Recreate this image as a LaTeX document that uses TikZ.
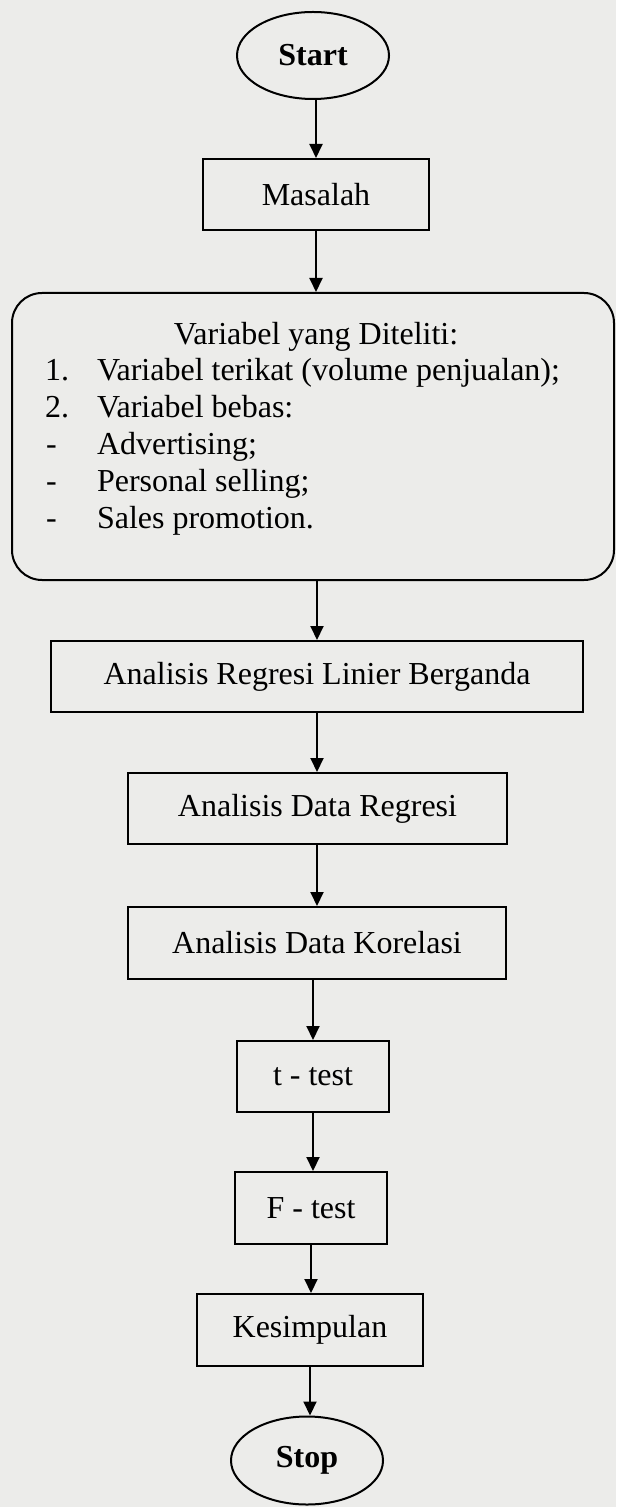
\documentclass[tikz,border=0pt]{standalone}
\usepackage{fontspec}
\setmainfont{Liberation Serif}
\usetikzlibrary{arrows.meta,shapes.geometric}
\definecolor{bg}{RGB}{236,236,234}
\begin{document}
\begin{tikzpicture}[x=0.5pt,y=-0.5pt,
  line width=1pt,
  every node/.style={font=\fontsize{16}{18.3}\selectfont},
  box/.style={draw, rectangle, minimum height=35.5pt, inner sep=0pt},
  term/.style={draw, ellipse, inner sep=0pt, font=\fontsize{16}{18.3}\selectfont\bfseries},
  txt/.style={anchor=base west, inner sep=0pt},
  flow/.style={-{Triangle[width=6.5pt,length=7pt]}}
]
\fill[bg] (0,0) rectangle (616,1507);
\useasboundingbox (0,0) rectangle (616,1507);

\node[term, minimum width=76pt, minimum height=43.5pt] (start) at (313,55.5) {Start};
\node[box, minimum width=113pt] (masalah) at (316,194.5) {Masalah};
\node[draw, rounded corners=15pt, minimum width=301pt, minimum height=143.5pt, inner sep=0pt] (var) at (313,436.5) {};
\node[anchor=base, inner sep=0pt] (vtitle) at (316,345) {Variabel yang Diteliti:};
\node[txt] (n1) at (44,381) {1.};
\node[txt] (v1) at (96,381) {Variabel terikat (volume penjualan);};
\node[txt] (n2) at (44,418) {2.};
\node[txt] (v2) at (96,418) {Variabel bebas:};
\node[txt] (d1) at (45,455) {-};
\node[txt] (v3) at (96,455) {Advertising;};
\node[txt] (d2) at (45,492) {-};
\node[txt] (v4) at (96,492) {Personal selling;};
\node[txt] (d3) at (45,528) {-};
\node[txt] (v5) at (96,528) {Sales promotion.};
\node[box, minimum width=266pt] (arlb) at (317,676.5) {Analisis Regresi Linier Berganda};
\node[box, minimum width=189.5pt] (dr) at (317.5,808.5) {Analisis Data Regresi};
\node[box, minimum width=189pt, minimum height=36pt] (dk) at (317,943) {Analisis Data Korelasi};
\node[box, minimum width=76pt] (tt) at (313,1076.5) {t - test};
\node[box, minimum width=76pt, minimum height=36pt] (ft) at (311,1208) {F - test};
\node[box, minimum width=113pt, minimum height=36pt] (kes) at (310,1330) {Kesimpulan};
\node[term, minimum width=76pt, minimum height=44pt] (stop) at (307,1460.5) {Stop};

\draw[flow] (masalah.north |- start.south) -- (masalah.north);
\draw[flow] (masalah.south) -- (masalah.south |- var.north);
\draw[flow] (arlb.north |- var.south) -- (arlb.north);
\draw[flow] (arlb.south) -- (arlb.south |- dr.north);
\draw[flow] (dk.north |- dr.south) -- (dk.north);
\draw[flow] (tt.north |- dk.south) -- (tt.north);
\draw[flow] (tt.south) -- (tt.south |- ft.north);
\draw[flow] (ft.south) -- (ft.south |- kes.north);
\draw[flow] (kes.south) -- (kes.south |- stop.north);
\end{tikzpicture}
\end{document}
